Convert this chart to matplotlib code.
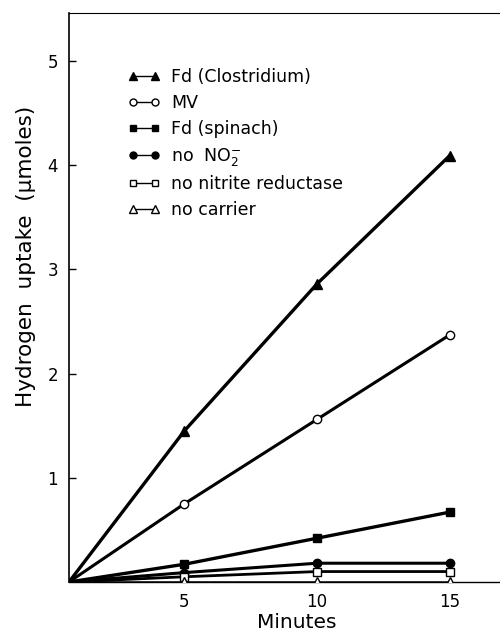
import matplotlib
matplotlib.use("Agg")
import matplotlib.pyplot as plt
from matplotlib.lines import Line2D

# time points (min); first point is where the curves leave the axis corner
minutes = [0.65, 5, 10, 15]

# hydrogen uptake (umoles)
fd_clostridium = [0.0, 1.45, 2.86, 4.09]
mv = [0.0, 0.75, 1.56, 2.37]
fd_spinach = [0.0, 0.17, 0.42, 0.67]
no_no2 = [0.0, 0.09, 0.18, 0.18]
no_nitrite_reductase = [0.0, 0.05, 0.10, 0.10]
no_carrier = [0.0, 0.0, 0.0, 0.0]

labels = ["Fd (Clostridium)", "MV", "Fd (spinach)", r"no  NO$_2^{-}$",
          "no nitrite reductase", "no carrier"]
x_ticks = [5, 10, 15]
y_ticks = [1, 2, 3, 4, 5]

series = [fd_clostridium, mv, fd_spinach, no_no2, no_nitrite_reductase, no_carrier]
markers = ["^", "o", "s", "o", "s", "^"]
filled = [True, False, True, True, False, False]
widths = [2.4, 2.2, 2.4, 2.2, 2.0, 1.8]
sizes = [7, 6, 6, 6, 5.5, 6.5]

plt.rcParams['font.family'] = ['DejaVu Sans']

fig = plt.figure(figsize=(5, 6.33), dpi=100)
ax = fig.add_axes([0.138, 0.0806, 0.862, 0.899])

handles = []
for ys, m, f, w, s, lab in zip(series, markers, filled, widths, sizes, labels):
    face = "black" if f else "white"
    ax.plot(minutes, ys, color="black", lw=w, zorder=2)
    ax.plot(minutes[1:], ys[1:], ls="none", marker=m, ms=s, mfc=face,
            mec="black", mew=1.0, zorder=3)
    handles.append(Line2D([0], [0], color="black", lw=1.0, marker=m, ms=s - 1,
                          mfc=face, mec="black", mew=1.0, label=lab))

ax.set_xlim(0.65, 16.9)
ax.set_ylim(0, 5.46)
ax.set_xticks(x_ticks)
ax.set_yticks(y_ticks)
ax.tick_params(direction="in", length=5, width=1, labelsize=12, pad=8)
ax.tick_params(axis="x", length=0, pad=8)

ax.spines["right"].set_visible(False)
ax.spines["top"].set_linewidth(0.8)
ax.spines["left"].set_linewidth(1.2)
ax.spines["bottom"].set_linewidth(1.0)

ax.set_xlabel("Minutes", fontsize=14.5)
ax.xaxis.set_label_coords(0.529, -0.054)
ax.set_ylabel("Hydrogen  uptake  (\u03bcmoles)", fontsize=15.5)
ax.yaxis.set_label_coords(-0.077, 0.573)

leg = ax.legend(handles=handles, loc="upper left", bbox_to_anchor=(0.12, 0.915),
                frameon=False, fontsize=12.5, numpoints=2, handlelength=1.9,
                handletextpad=0.6, labelspacing=0.45, borderaxespad=0)

fig.savefig("out.png", dpi=100)
